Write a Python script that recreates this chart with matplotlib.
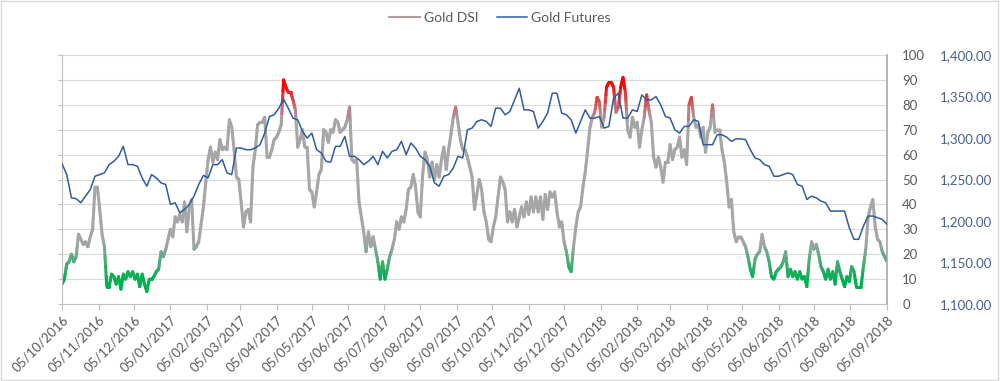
import numpy as np
import pandas as pd
import matplotlib
matplotlib.use('Agg')
import matplotlib.pyplot as plt
import matplotlib.dates as mdates
from matplotlib.collections import LineCollection
from matplotlib.colors import LinearSegmentedColormap, Normalize
from matplotlib.lines import Line2D
from matplotlib.ticker import FuncFormatter

plt.rcParams['font.family'] = ['Lato', 'DejaVu Sans']

start = '2016-10-05'
end = '2018-09-05'

# Gold DSI, read roughly every 2 days
dsi = [
    8, 10, 16, 17, 20, 17, 19, 28, 26, 24,
    25, 23, 27, 30, 47, 47, 38, 28, 23, 7,
    7, 12, 11, 8, 11, 6, 12, 10, 13, 11,
    13, 10, 12, 7, 12, 8, 5, 10, 10, 11,
    13, 14, 21, 19, 22, 26, 30, 27, 35, 33,
    36, 33, 41, 29, 39, 42, 22, 23, 25, 32,
    39, 49, 58, 63, 57, 61, 58, 66, 62, 63,
    62, 74, 71, 62, 51, 50, 41, 31, 37, 38,
    33, 55, 62, 72, 73, 73, 75, 59, 59, 62,
    66, 67, 69, 72, 90, 87, 85, 85, 82, 78,
    63, 66, 70, 63, 63, 46, 45, 39, 45, 52,
    54, 70, 69, 65, 70, 69, 74,
    73, 69, 70, 71, 74, 79, 58, 57, 58, 41,
    35, 29, 21, 29, 23, 27, 22, 17, 10, 17,
    10, 14, 19, 22, 26, 33, 30, 35, 33, 38,
    46, 47, 52, 47, 37, 35, 52, 61, 58, 51,
    57, 50, 56, 51, 58, 63, 54, 62, 68, 75,
    79, 73, 66, 62, 62, 59, 55, 51, 38, 44,
    50, 46, 37, 33, 26, 25, 31, 35, 43, 51,
    49, 46, 33, 37, 33, 38, 31, 35, 39, 35,
    41, 36, 43, 37, 43, 37, 43, 34, 44, 38,
    45, 43, 45, 37, 31, 33, 25, 21, 15, 13,
    23, 31, 37, 39, 47, 53, 62, 71, 75, 77,
    83, 81, 71, 75, 87, 89, 89, 87,
    77, 79, 87, 91, 85, 70, 67, 75, 71, 73,
    63, 70, 75, 84, 78, 73, 59, 55, 59, 55,
    49, 57, 57, 64, 58, 62, 63, 67, 59, 62,
    56, 80, 83, 75, 71, 72, 67, 71, 61, 69,
    71, 80, 69, 70, 70, 62, 57, 49, 39, 42,
    29, 25, 27, 27, 25, 23, 19, 14,
    11, 18, 20, 21, 28, 23, 21, 17, 11, 10,
    13, 14, 15, 17, 21, 11, 14, 11, 13, 10,
    13, 10, 11, 7, 18, 25, 22, 24, 20, 15,
    13, 10, 14, 10, 13, 8, 17, 13, 10, 7,
    11, 9, 15, 13, 7, 7, 7, 15, 22, 35,
    39, 42, 31, 26, 25, 21, 19, 17,
]

# Gold futures, read roughly every 4 days
futures = [
    1269, 1256, 1228, 1227, 1222, 1230, 1238, 1254, 1256, 1258,
    1268, 1272, 1278, 1290, 1268, 1268, 1266, 1252, 1242, 1256,
    1252, 1246, 1244, 1220, 1222, 1210, 1214, 1220, 1230, 1244,
    1255, 1252, 1268, 1268, 1274, 1258, 1256, 1288, 1288, 1286,
    1286, 1288, 1292, 1306, 1326, 1328, 1336, 1347, 1336, 1324,
    1322, 1308, 1300, 1306, 1286, 1282, 1272, 1271, 1290,
    1290, 1302, 1278, 1278, 1274, 1268, 1272, 1278, 1268, 1284,
    1276, 1284, 1286, 1296, 1280, 1294, 1288, 1278, 1274, 1266,
    1246, 1242, 1254, 1256, 1264, 1278, 1276, 1310, 1312, 1320,
    1322, 1320, 1314, 1336, 1336, 1328, 1332, 1346, 1360, 1334,
    1334, 1332, 1312, 1320, 1330, 1354, 1354, 1330, 1328, 1322,
    1306, 1320, 1334, 1324, 1324, 1326, 1312, 1314, 1348,
    1354, 1324, 1324, 1334, 1332, 1352, 1346, 1346, 1350, 1340,
    1326, 1324, 1310, 1306, 1314, 1314, 1322, 1320, 1292, 1292,
    1292, 1304, 1304, 1301, 1296, 1299, 1299, 1298, 1286,
    1276, 1274, 1268, 1266, 1254, 1254, 1256, 1258, 1256, 1244,
    1242, 1226, 1230, 1228, 1224, 1222, 1212, 1212, 1212, 1212,
    1192, 1178, 1178, 1194, 1206, 1206, 1204, 1202, 1196,
]

dsi_dates = pd.date_range(start, end, periods=len(dsi))
fut_dates = pd.date_range(start, end, periods=len(futures))
tick_dates = pd.date_range(start, end, freq='MS') + pd.DateOffset(days=4)
tick_dates = [pd.Timestamp(start)] + [d for d in tick_dates if d > pd.Timestamp(start)]

green = '#00B050'
gray = '#A6A6A6'
red = '#FF0000'
blue = '#2E5C9E'
text_gray = '#595959'

fig = plt.figure(figsize=(10, 3.81), dpi=100)
ax = fig.add_axes([0.062, 0.202, 0.825, 0.6535])

# DSI line: gradient green (low) -> gray -> red (high)
cmap = LinearSegmentedColormap.from_list(
    'dsi', [(0, green), (0.10, green), (0.25, gray), (0.74, gray), (0.88, red), (1, red)])
norm = Normalize(0, 100)
x = mdates.date2num(dsi_dates)
y = np.array(dsi, dtype=float)
t = np.linspace(0, 1, 5)[:-1]
xs = np.concatenate([x[i] + (x[i + 1] - x[i]) * t for i in range(len(x) - 1)] + [[x[-1]]])
ys = np.concatenate([y[i] + (y[i + 1] - y[i]) * t for i in range(len(y) - 1)] + [[y[-1]]])
pts = np.column_stack([xs, ys])
segs = np.stack([pts[:-1], pts[1:]], axis=1)
colors = cmap(norm((ys[:-1] + ys[1:]) / 2))
lc = LineCollection(segs, colors=colors, linewidths=2.2, capstyle='round', joinstyle='round', zorder=2)
ax.add_collection(lc)

ax.set_xlim(mdates.date2num(pd.Timestamp(start)), mdates.date2num(pd.Timestamp(end)))
ax.set_ylim(0, 100)
ax.set_yticks(range(0, 101, 10))
ax.grid(axis='y', color='#D9D9D9', linewidth=0.8)
ax.set_axisbelow(True)

# futures on a second axis, labels further right
ax2 = ax.twinx()
ax2.plot(mdates.date2num(fut_dates), futures, color=blue, linewidth=1.1)
ax2.set_ylim(1100, 1400)
ax2.set_yticks(range(1100, 1401, 50))
ax2.yaxis.set_major_formatter(FuncFormatter(lambda v, p: f'{v:,.2f}'))
ax2.spines['right'].set_position(('outward', 38))
for s in ax2.spines.values():
    s.set_visible(False)
ax2.tick_params(axis='y', length=0, pad=0, labelcolor='#44628F', labelsize=9.5)

ax.tick_params(axis='y', left=True, right=False, labelleft=False, labelright=True,
               direction='out', length=3, color='#BFBFBF', labelcolor=text_gray,
               labelsize=9.5, pad=8)
ax.set_xticks(mdates.date2num(tick_dates))
ax.set_xticklabels([d.strftime('%d/%m/%Y') for d in tick_dates], rotation=45,
                   ha='right', rotation_mode='anchor')
ax.tick_params(axis='x', length=4, color='#BFBFBF', labelcolor=text_gray, labelsize=9.5, pad=3)

ax.spines['top'].set_visible(False)
ax.spines['left'].set_color('#BFBFBF')
ax.spines['bottom'].set_color('#BFBFBF')
ax.spines['right'].set_color('#A6A6A6')
ax.spines['right'].set_linewidth(1.2)

handles = [Line2D([], [], color='#B39C9C', linewidth=1.5),
           Line2D([], [], color=blue, linewidth=1.1)]
fig.legend(handles, ['Gold DSI', 'Gold Futures'], loc='center', bbox_to_anchor=(0.5, 0.953),
           ncol=2, frameon=False, fontsize=10, labelcolor=text_gray,
           handlelength=2.2, columnspacing=1.3, handletextpad=0.3)

fig.add_artist(plt.Rectangle((0.001, 0.003), 0.997, 0.994, transform=fig.transFigure,
                             fill=False, edgecolor='#D9D9D9', linewidth=1))

fig.savefig('out.png', dpi=100)
